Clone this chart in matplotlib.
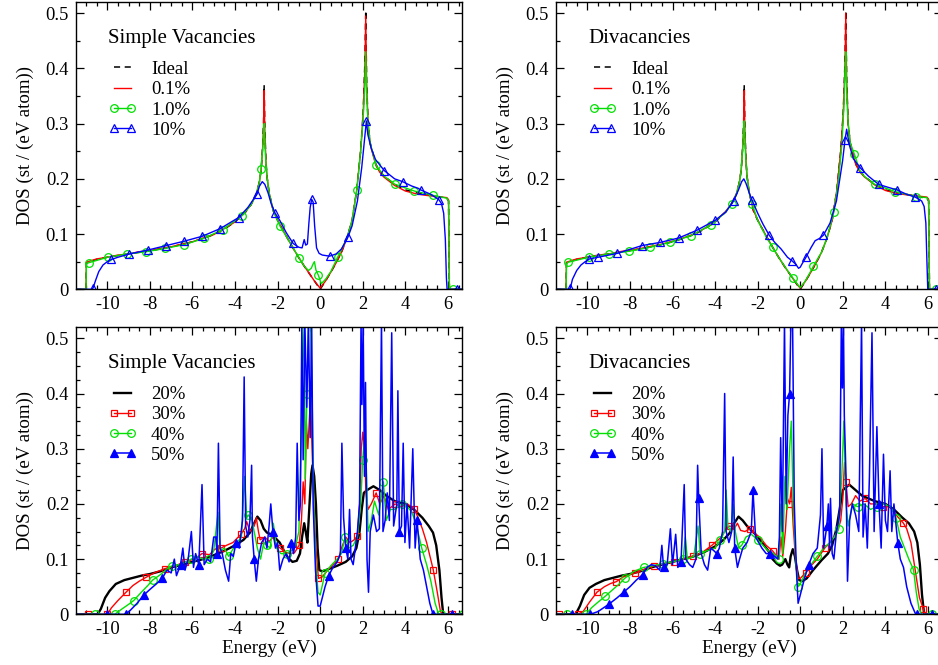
import numpy as np
import matplotlib
matplotlib.use("Agg")
import matplotlib.pyplot as plt
from matplotlib.lines import Line2D
from matplotlib.ticker import MultipleLocator, FuncFormatter

plt.rcParams["font.family"] = ["Liberation Serif", "DejaVu Serif"]
plt.rcParams["axes.unicode_minus"] = False

# ── Data: DOS (st / (eV atom)) vs energy (eV) ──────────────────────────────

# pristine sheet and 0.1 % share one energy grid
e_ideal = [-11.5, -11.0, -10.98, -10.5, -10.0, -9.5, -9.0, -8.5, -8.0, -7.5,
           -7.0, -6.5, -6.0, -5.5, -5.0, -4.5, -4.0, -3.5, -3.25, -3.0,
           -2.85, -2.77, -2.7, -2.66, -2.63, -2.6, -2.55, -2.5, -2.4, -2.2,
           -2.0, -1.83, -1.5, -1.25, -1.0, -0.75, -0.5, -0.25, 0.0, 0.25,
           0.5, 0.75, 1.0, 1.25, 1.5, 1.72, 1.9, 2.02, 2.1, 2.14,
           2.18, 2.25, 2.35, 2.5, 2.62, 2.8, 3.0, 3.5, 4.0, 4.5,
           5.0, 5.5, 5.95, 6.03, 6.07, 6.7]
dos_ideal = [0, 0, 0.048, 0.054, 0.058, 0.061, 0.064, 0.067, 0.070, 0.073,
             0.077, 0.081, 0.086, 0.092, 0.099, 0.109, 0.122, 0.140, 0.153, 0.172,
             0.195, 0.217, 0.260, 0.300, 0.370, 0.290, 0.235, 0.205, 0.175, 0.142,
             0.125, 0.113, 0.090, 0.073, 0.057, 0.042, 0.028, 0.014, 0.000, 0.015,
             0.031, 0.048, 0.067, 0.092, 0.125, 0.180, 0.250, 0.320, 0.410, 0.505,
             0.380, 0.300, 0.265, 0.243, 0.226, 0.214, 0.205, 0.190, 0.180, 0.175,
             0.172, 0.168, 0.165, 0.160, 0.000, 0.000]
dos_sv_01 = [0, 0, 0.049, 0.055, 0.058, 0.062, 0.064, 0.068, 0.070, 0.074,
             0.077, 0.082, 0.086, 0.093, 0.099, 0.110, 0.122, 0.141, 0.153, 0.172,
             0.196, 0.217, 0.258, 0.295, 0.360, 0.285, 0.233, 0.205, 0.175, 0.142,
             0.125, 0.113, 0.090, 0.073, 0.057, 0.042, 0.028, 0.014, 0.002, 0.015,
             0.031, 0.048, 0.067, 0.092, 0.125, 0.180, 0.250, 0.318, 0.400, 0.495,
             0.375, 0.300, 0.263, 0.241, 0.224, 0.212, 0.203, 0.188, 0.178, 0.173,
             0.170, 0.168, 0.166, 0.162, 0.000, 0.000]
dos_dv_01 = [0, 0, 0.049, 0.055, 0.058, 0.062, 0.064, 0.068, 0.071, 0.074,
             0.078, 0.082, 0.087, 0.093, 0.100, 0.110, 0.123, 0.141, 0.154, 0.172,
             0.196, 0.218, 0.258, 0.295, 0.360, 0.285, 0.233, 0.206, 0.176, 0.143,
             0.126, 0.113, 0.090, 0.073, 0.057, 0.042, 0.028, 0.014, 0.002, 0.015,
             0.031, 0.048, 0.067, 0.092, 0.125, 0.180, 0.250, 0.318, 0.402, 0.500,
             0.378, 0.300, 0.264, 0.242, 0.225, 0.213, 0.204, 0.189, 0.179, 0.174,
             0.171, 0.169, 0.167, 0.163, 0.000, 0.000]

# simple vacancies, low concentrations
sv_1 = [(-11.5, 0), (-11.0, 0), (-10.98, 0.046), (-10.88, 0.048), (-9.98, 0.058),
        (-9.08, 0.064), (-8.18, 0.068), (-7.28, 0.074), (-6.38, 0.081), (-5.48, 0.092),
        (-4.58, 0.108), (-3.68, 0.133), (-3.25, 0.153), (-3.0, 0.172), (-2.85, 0.195),
        (-2.78, 0.217), (-2.7, 0.255), (-2.66, 0.28), (-2.63, 0.30), (-2.6, 0.27),
        (-2.55, 0.23), (-2.5, 0.205), (-2.4, 0.175), (-2.2, 0.142), (-1.88, 0.114),
        (-1.5, 0.09), (-0.98, 0.056), (-0.75, 0.042), (-0.55, 0.034), (-0.42, 0.038),
        (-0.33, 0.046), (-0.27, 0.05), (-0.2, 0.035), (-0.08, 0.025), (0.05, 0.01),
        (0.25, 0.018), (0.5, 0.032), (0.82, 0.058), (1.25, 0.092), (1.5, 0.125),
        (1.72, 0.18), (1.9, 0.25), (2.02, 0.31), (2.1, 0.37), (2.14, 0.43),
        (2.18, 0.36), (2.25, 0.3), (2.35, 0.265), (2.62, 0.225), (3.0, 0.205),
        (3.52, 0.19), (4.42, 0.178), (5.32, 0.17), (5.95, 0.165), (6.03, 0.16),
        (6.07, 0.0), (6.22, 0.0), (6.7, 0.0)]
sv_10 = [(-11.5, 0), (-10.75, 0), (-10.67, 0.002), (-10.55, 0.016), (-10.4, 0.032),
         (-10.2, 0.044), (-10.0, 0.05), (-9.81, 0.054), (-9.5, 0.058), (-8.96, 0.064),
         (-8.1, 0.071), (-7.25, 0.079), (-6.4, 0.087), (-5.54, 0.096), (-4.69, 0.11),
         (-3.83, 0.13), (-3.4, 0.148), (-3.1, 0.165), (-2.97, 0.172), (-2.85, 0.187),
         (-2.72, 0.195), (-2.6, 0.19), (-2.45, 0.175), (-2.3, 0.155), (-2.12, 0.138),
         (-1.9, 0.125), (-1.6, 0.103), (-1.27, 0.083), (-1.0, 0.076), (-0.85, 0.075),
         (-0.75, 0.09), (-0.68, 0.08), (-0.6, 0.082), (-0.53, 0.12), (-0.47, 0.148),
         (-0.4, 0.163), (-0.33, 0.158), (-0.26, 0.115), (-0.17, 0.075), (-0.05, 0.065),
         (0.1, 0.062), (0.44, 0.06), (0.75, 0.064), (1.0, 0.073), (1.3, 0.094),
         (1.5, 0.115), (1.75, 0.16), (1.95, 0.22), (2.08, 0.27), (2.17, 0.305),
         (2.24, 0.28), (2.4, 0.255), (2.6, 0.235), (3.01, 0.215), (3.5, 0.2),
         (3.87, 0.195), (4.3, 0.187), (4.6, 0.183), (4.72, 0.18), (5.2, 0.172),
         (5.58, 0.162), (5.7, 0.155), (5.8, 0.138), (5.88, 0.09), (5.93, 0.02),
         (5.96, 0), (6.43, 0), (6.7, 0)]

# divacancies, low concentrations
dv_1 = [(-11.5, 0), (-11.0, 0), (-10.98, 0.046), (-10.9, 0.049), (-9.94, 0.058),
        (-8.98, 0.064), (-8.02, 0.069), (-7.06, 0.076), (-6.1, 0.085), (-5.14, 0.097),
        (-4.18, 0.117), (-3.5, 0.14), (-3.22, 0.155), (-3.0, 0.172), (-2.85, 0.195),
        (-2.77, 0.217), (-2.7, 0.26), (-2.66, 0.285), (-2.63, 0.305), (-2.6, 0.275),
        (-2.55, 0.23), (-2.5, 0.205), (-2.4, 0.175), (-2.26, 0.155), (-2.0, 0.125),
        (-1.6, 0.095), (-1.3, 0.076), (-1.0, 0.057), (-0.6, 0.034), (-0.34, 0.02),
        (-0.15, 0.01), (0.0, 0.003), (0.2, 0.013), (0.4, 0.026), (0.62, 0.042),
        (1.0, 0.067), (1.25, 0.092), (1.58, 0.14), (1.8, 0.2), (1.95, 0.26),
        (2.05, 0.33), (2.1, 0.39), (2.14, 0.43), (2.18, 0.36), (2.25, 0.3),
        (2.35, 0.265), (2.54, 0.245), (2.8, 0.215), (3.0, 0.205), (3.5, 0.19),
        (4.46, 0.177), (5.0, 0.172), (5.42, 0.168), (5.95, 0.166), (6.03, 0.16),
        (6.07, 0.0), (6.38, 0.0), (6.7, 0.0)]
dv_10 = [(-11.5, 0), (-10.85, 0), (-10.8, 0.002), (-10.7, 0.018), (-10.5, 0.034),
         (-10.3, 0.044), (-10.1, 0.05), (-9.9, 0.055), (-9.5, 0.058), (-8.6, 0.065),
         (-7.45, 0.079), (-6.57, 0.085), (-5.7, 0.093), (-4.85, 0.107), (-3.99, 0.125),
         (-3.5, 0.14), (-3.13, 0.16), (-2.9, 0.18), (-2.75, 0.195), (-2.65, 0.2),
         (-2.55, 0.192), (-2.4, 0.175), (-2.27, 0.162), (-2.0, 0.138), (-1.75, 0.118),
         (-1.46, 0.098), (-1.2, 0.085), (-0.9, 0.073), (-0.6, 0.058), (-0.4, 0.052),
         (-0.2, 0.045), (-0.08, 0.038), (0.0, 0.04), (0.1, 0.047), (0.27, 0.058),
         (0.5, 0.075), (0.7, 0.088), (0.9, 0.092), (1.09, 0.098), (1.4, 0.12),
         (1.7, 0.16), (1.99, 0.233), (2.1, 0.27), (2.18, 0.29), (2.3, 0.262),
         (2.5, 0.236), (2.82, 0.22), (3.2, 0.205), (3.68, 0.19), (4.1, 0.185),
         (4.54, 0.18), (5.0, 0.172), (5.4, 0.167), (5.7, 0.16), (5.82, 0.15),
         (5.9, 0.12), (5.95, 0.05), (5.99, 0), (6.4, 0), (6.7, 0)]

# simple vacancies, high concentrations
sv_20 = [(-11.5, 0), (-10.45, 0), (-10.3, 0.01), (-10.1, 0.03), (-9.9, 0.042),
         (-9.6, 0.055), (-9.2, 0.062), (-8.8, 0.066), (-8.4, 0.07), (-8.0, 0.073),
         (-7.5, 0.078), (-7.0, 0.085), (-6.5, 0.09), (-6.0, 0.095), (-5.5, 0.1),
         (-5.0, 0.107), (-4.5, 0.115), (-4.0, 0.125), (-3.6, 0.135), (-3.3, 0.148),
         (-3.1, 0.165), (-2.95, 0.177), (-2.8, 0.17), (-2.65, 0.155), (-2.5, 0.148),
         (-2.3, 0.145), (-2.1, 0.138), (-1.9, 0.13), (-1.7, 0.115), (-1.5, 0.102),
         (-1.3, 0.095), (-1.1, 0.097), (-0.95, 0.11), (-0.85, 0.14), (-0.75, 0.165),
         (-0.68, 0.15), (-0.6, 0.13), (-0.5, 0.2), (-0.42, 0.255), (-0.36, 0.27),
         (-0.28, 0.25), (-0.2, 0.2), (-0.12, 0.12), (-0.04, 0.08), (0.1, 0.078),
         (0.4, 0.082), (0.8, 0.088), (1.2, 0.095), (1.5, 0.105), (1.7, 0.12),
         (1.85, 0.15), (1.95, 0.19), (2.05, 0.22), (2.2, 0.225), (2.5, 0.232),
         (2.8, 0.225), (3.1, 0.215), (3.5, 0.205), (4.0, 0.2), (4.4, 0.19),
         (4.8, 0.175), (5.1, 0.16), (5.3, 0.148), (5.45, 0.125), (5.6, 0.08),
         (5.7, 0.03), (5.78, 0), (6.7, 0)]
sv_30 = [(-11.5, 0), (-10.92, 0), (-10.0, 0), (-9.8, 0.012), (-9.5, 0.025),
         (-9.12, 0.04), (-8.8, 0.052), (-8.5, 0.06), (-8.18, 0.067), (-7.8, 0.075),
         (-7.27, 0.083), (-6.8, 0.088), (-6.37, 0.095), (-5.9, 0.1), (-5.55, 0.11),
         (-5.2, 0.108), (-4.95, 0.118), (-4.66, 0.12), (-4.4, 0.125), (-4.1, 0.13),
         (-3.72, 0.145), (-3.55, 0.155), (-3.45, 0.168), (-3.3, 0.15), (-3.1, 0.16),
         (-3.0, 0.175), (-2.9, 0.15), (-2.82, 0.135), (-2.6, 0.14), (-2.4, 0.132),
         (-2.2, 0.14), (-2.05, 0.125), (-1.88, 0.12), (-1.6, 0.112), (-1.4, 0.11),
         (-1.2, 0.112), (-0.99, 0.125), (-0.88, 0.17), (-0.8, 0.24), (-0.72, 0.2),
         (-0.65, 0.35), (-0.58, 0.3), (-0.5, 0.36), (-0.45, 0.39), (-0.38, 0.3),
         (-0.3, 0.2), (-0.2, 0.12), (-0.08, 0.065), (0.1, 0.068), (0.4, 0.082),
         (0.86, 0.1), (1.0, 0.12), (1.2, 0.14), (1.4, 0.13), (1.6, 0.135),
         (1.75, 0.142), (1.85, 0.2), (1.93, 0.3), (2.0, 0.33), (2.08, 0.3),
         (2.15, 0.22), (2.25, 0.19), (2.4, 0.2), (2.63, 0.22), (2.8, 0.2),
         (3.0, 0.215), (3.2, 0.19), (3.52, 0.2), (3.8, 0.195), (4.1, 0.2),
         (4.43, 0.19), (4.6, 0.175), (4.8, 0.155), (5.0, 0.13), (5.31, 0.081),
         (5.5, 0.04), (5.65, 0.005), (5.75, 0), (6.2, 0), (6.7, 0)]
sv_40 = [(-11.5, 0), (-10.56, 0), (-9.65, 0), (-9.3, 0.01), (-9.0, 0.018),
         (-8.76, 0.025), (-8.4, 0.04), (-8.1, 0.052), (-7.87, 0.062), (-7.5, 0.072),
         (-7.2, 0.082), (-6.96, 0.088), (-6.6, 0.09), (-6.3, 0.095), (-6.06, 0.1),
         (-5.8, 0.105), (-5.5, 0.1), (-5.2, 0.1), (-5.0, 0.115), (-4.8, 0.185),
         (-4.7, 0.115), (-4.5, 0.12), (-4.3, 0.105), (-4.1, 0.118), (-3.9, 0.13),
         (-3.7, 0.14), (-3.55, 0.25), (-3.45, 0.175), (-3.37, 0.18), (-3.2, 0.17),
         (-3.1, 0.15), (-2.95, 0.12), (-2.8, 0.1), (-2.65, 0.13), (-2.5, 0.125),
         (-2.35, 0.12), (-2.2, 0.165), (-2.05, 0.12), (-1.85, 0.11), (-1.57, 0.11),
         (-1.35, 0.115), (-1.15, 0.125), (-1.0, 0.15), (-0.9, 0.3), (-0.82, 0.45),
         (-0.75, 0.53), (-0.7, 0.245), (-0.62, 0.4), (-0.55, 0.53), (-0.45, 0.53),
         (-0.38, 0.4), (-0.3, 0.2), (-0.2, 0.09), (-0.1, 0.04), (0.0, 0.035),
         (0.23, 0.075), (0.5, 0.088), (0.8, 0.1), (1.0, 0.11), (1.17, 0.14),
         (1.35, 0.12), (1.55, 0.125), (1.75, 0.14), (1.9, 0.2), (2.0, 0.28),
         (2.11, 0.335), (2.18, 0.25), (2.25, 0.15), (2.4, 0.17), (2.55, 0.205),
         (2.75, 0.18), (2.97, 0.24), (3.1, 0.17), (3.3, 0.19), (3.5, 0.19),
         (3.83, 0.2), (4.1, 0.195), (4.3, 0.185), (4.5, 0.165), (4.77, 0.12),
         (5.0, 0.09), (5.2, 0.06), (5.4, 0.02), (5.55, 0.002), (5.66, 0),
         (6.7, 0)]
sv_50 = [(-11.5, 0), (-10.0, 0), (-9.14, 0), (-8.9, 0.008), (-8.6, 0.02),
         (-8.28, 0.035), (-8.0, 0.045), (-7.7, 0.055), (-7.42, 0.065), (-7.2, 0.08),
         (-7.0, 0.075), (-6.85, 0.1), (-6.75, 0.07), (-6.56, 0.09), (-6.45, 0.12),
         (-6.35, 0.08), (-6.2, 0.1), (-6.05, 0.15), (-5.95, 0.085), (-5.85, 0.11),
         (-5.7, 0.09), (-5.55, 0.235), (-5.45, 0.09), (-5.3, 0.1), (-5.15, 0.095),
         (-5.0, 0.14), (-4.9, 0.14), (-4.85, 0.11), (-4.78, 0.31), (-4.7, 0.12),
         (-4.6, 0.11), (-4.45, 0.08), (-4.3, 0.06), (-4.2, 0.11), (-4.08, 0.105),
         (-3.95, 0.13), (-3.8, 0.12), (-3.65, 0.17), (-3.57, 0.43), (-3.5, 0.16),
         (-3.4, 0.14), (-3.3, 0.17), (-3.22, 0.27), (-3.18, 0.14), (-3.1, 0.1),
         (-3.0, 0.06), (-2.9, 0.1), (-2.75, 0.13), (-2.6, 0.14), (-2.5, 0.12),
         (-2.4, 0.16), (-2.32, 0.2), (-2.22, 0.15), (-2.1, 0.12), (-2.0, 0.13),
         (-1.9, 0.08), (-1.75, 0.1), (-1.6, 0.11), (-1.46, 0.095), (-1.35, 0.13),
         (-1.25, 0.11), (-1.15, 0.14), (-1.08, 0.31), (-1.0, 0.17), (-0.93, 0.2),
         (-0.86, 0.53), (-0.8, 0.28), (-0.72, 0.53), (-0.63, 0.375), (-0.55, 0.53),
         (-0.47, 0.32), (-0.4, 0.53), (-0.33, 0.2), (-0.22, 0.08), (-0.1, 0.015),
         (0.0, 0.015), (0.1, 0.03), (0.23, 0.05), (0.4, 0.07), (0.6, 0.085),
         (0.8, 0.095), (0.95, 0.11), (1.02, 0.31), (1.1, 0.175), (1.2, 0.12),
         (1.3, 0.1), (1.38, 0.19), (1.45, 0.1), (1.55, 0.09), (1.65, 0.12),
         (1.75, 0.15), (1.85, 0.2), (1.92, 0.53), (1.96, 0.38), (2.02, 0.53),
         (2.08, 0.25), (2.13, 0.42), (2.2, 0.1), (2.27, 0.04), (2.35, 0.15),
         (2.5, 0.18), (2.65, 0.15), (2.78, 0.155), (2.88, 0.53), (2.95, 0.15),
         (3.05, 0.17), (3.15, 0.22), (3.25, 0.17), (3.36, 0.51), (3.45, 0.16),
         (3.6, 0.2), (3.65, 0.405), (3.72, 0.15), (3.82, 0.16), (3.9, 0.31),
         (3.98, 0.13), (4.08, 0.2), (4.2, 0.12), (4.35, 0.3), (4.46, 0.12),
         (4.55, 0.17), (4.7, 0.1), (4.85, 0.08), (5.0, 0.05), (5.15, 0.02),
         (5.3, 0), (6.18, 0), (6.7, 0)]

# divacancies, high concentrations
dv_20 = [(-11.5, 0), (-10.55, 0), (-10.35, 0.015), (-10.15, 0.035), (-9.9, 0.048),
         (-9.6, 0.055), (-9.2, 0.062), (-8.8, 0.066), (-8.4, 0.07), (-8.0, 0.073),
         (-7.5, 0.078), (-7.0, 0.085), (-6.5, 0.09), (-6.0, 0.095), (-5.5, 0.1),
         (-5.0, 0.105), (-4.5, 0.113), (-4.0, 0.123), (-3.6, 0.135), (-3.3, 0.148),
         (-3.1, 0.165), (-2.9, 0.177), (-2.7, 0.17), (-2.5, 0.16), (-2.3, 0.152),
         (-2.1, 0.145), (-1.9, 0.135), (-1.7, 0.125), (-1.5, 0.115), (-1.3, 0.1),
         (-1.1, 0.092), (-0.95, 0.088), (-0.85, 0.09), (-0.7, 0.1), (-0.6, 0.09),
         (-0.52, 0.085), (-0.45, 0.105), (-0.35, 0.118), (-0.25, 0.105), (-0.15, 0.08),
         (-0.05, 0.062), (0.1, 0.06), (0.3, 0.065), (0.6, 0.08), (1.0, 0.098),
         (1.3, 0.11), (1.5, 0.125), (1.7, 0.155), (1.85, 0.19), (2.0, 0.225),
         (2.3, 0.235), (2.6, 0.225), (2.9, 0.215), (3.2, 0.21), (3.5, 0.205),
         (4.0, 0.2), (4.4, 0.19), (4.8, 0.175), (5.1, 0.165), (5.35, 0.15),
         (5.5, 0.13), (5.62, 0.09), (5.72, 0.035), (5.82, 0), (6.7, 0)]
dv_30 = [(-11.5, 0), (-11.35, 0), (-10.46, 0), (-10.2, 0.005), (-9.9, 0.022),
         (-9.55, 0.04), (-9.2, 0.05), (-8.9, 0.056), (-8.65, 0.059), (-8.3, 0.068),
         (-7.75, 0.075), (-7.3, 0.082), (-6.85, 0.088), (-6.4, 0.092), (-5.95, 0.095),
         (-5.5, 0.1), (-5.05, 0.105), (-4.6, 0.112), (-4.15, 0.125), (-3.7, 0.14),
         (-3.45, 0.158), (-3.3, 0.16), (-3.1, 0.155), (-2.95, 0.165), (-2.8, 0.152),
         (-2.6, 0.15), (-2.35, 0.155), (-2.1, 0.145), (-1.9, 0.14), (-1.6, 0.125),
         (-1.3, 0.115), (-1.0, 0.1), (-0.9, 0.14), (-0.82, 0.105), (-0.7, 0.15),
         (-0.6, 0.21), (-0.5, 0.2), (-0.42, 0.23), (-0.33, 0.16), (-0.22, 0.1),
         (-0.1, 0.065), (0.0, 0.065), (0.25, 0.075), (0.5, 0.088), (0.8, 0.1),
         (1.15, 0.12), (1.5, 0.135), (1.75, 0.15), (1.9, 0.17), (2.0, 0.21),
         (2.08, 0.275), (2.15, 0.24), (2.25, 0.195), (2.4, 0.2), (2.6, 0.215),
         (2.8, 0.205), (3.05, 0.21), (3.3, 0.2), (3.6, 0.2), (3.9, 0.195),
         (4.2, 0.195), (4.5, 0.18), (4.85, 0.165), (5.0, 0.155), (5.2, 0.13),
         (5.4, 0.08), (5.6, 0.03), (5.78, 0.01), (5.85, 0), (6.7, 0)]
dv_40 = [(-11.5, 0), (-10.95, 0), (-10.05, 0), (-9.8, 0.012), (-9.5, 0.022),
         (-9.15, 0.033), (-8.8, 0.045), (-8.5, 0.055), (-8.25, 0.065), (-7.8, 0.078),
         (-7.35, 0.085), (-6.9, 0.088), (-6.45, 0.092), (-6.0, 0.095), (-5.5, 0.1),
         (-5.4, 0.14), (-5.3, 0.1), (-5.0, 0.105), (-4.8, 0.16), (-4.7, 0.11),
         (-4.4, 0.115), (-4.0, 0.12), (-3.75, 0.135), (-3.55, 0.15), (-3.48, 0.225),
         (-3.4, 0.16), (-3.25, 0.15), (-3.15, 0.2), (-3.05, 0.15), (-2.9, 0.12),
         (-2.75, 0.125), (-2.55, 0.14), (-2.3, 0.145), (-2.0, 0.135), (-1.75, 0.125),
         (-1.5, 0.115), (-1.25, 0.11), (-1.0, 0.1), (-0.9, 0.2), (-0.82, 0.11),
         (-0.72, 0.25), (-0.62, 0.19), (-0.5, 0.3), (-0.42, 0.35), (-0.33, 0.2),
         (-0.2, 0.09), (-0.1, 0.05), (0.0, 0.055), (0.25, 0.075), (0.5, 0.09),
         (0.8, 0.105), (1.1, 0.12), (1.4, 0.13), (1.6, 0.14), (1.8, 0.155),
         (1.95, 0.25), (2.05, 0.35), (2.15, 0.2), (2.25, 0.16), (2.45, 0.2),
         (2.7, 0.195), (3.0, 0.2), (3.3, 0.19), (3.6, 0.195), (3.9, 0.2),
         (4.25, 0.195), (4.5, 0.175), (4.7, 0.14), (4.9, 0.12), (5.1, 0.1),
         (5.32, 0.081), (5.45, 0.04), (5.58, 0.01), (5.7, 0), (6.18, 0),
         (6.7, 0)]
dv_50 = [(-11.5, 0), (-10.7, 0), (-9.86, 0), (-9.5, 0.005), (-9.0, 0.018),
         (-8.6, 0.03), (-8.3, 0.04), (-8.0, 0.05), (-7.7, 0.062), (-7.4, 0.072),
         (-7.2, 0.085), (-7.0, 0.09), (-6.8, 0.088), (-6.6, 0.08), (-6.5, 0.125),
         (-6.42, 0.085), (-6.25, 0.09), (-6.1, 0.155), (-6.0, 0.09), (-5.85, 0.145),
         (-5.75, 0.085), (-5.6, 0.095), (-5.45, 0.235), (-5.38, 0.1), (-5.2, 0.09),
         (-5.05, 0.085), (-4.9, 0.1), (-4.82, 0.27), (-4.77, 0.21), (-4.65, 0.11),
         (-4.5, 0.09), (-4.35, 0.08), (-4.2, 0.12), (-4.05, 0.115), (-3.92, 0.11),
         (-3.8, 0.12), (-3.65, 0.15), (-3.55, 0.4), (-3.48, 0.15), (-3.35, 0.13),
         (-3.22, 0.15), (-3.15, 0.285), (-3.08, 0.12), (-2.95, 0.085), (-2.85, 0.1),
         (-2.7, 0.12), (-2.5, 0.13), (-2.3, 0.15), (-2.22, 0.225), (-2.17, 0.19),
         (-2.1, 0.14), (-1.95, 0.13), (-1.8, 0.12), (-1.6, 0.11), (-1.4, 0.11),
         (-1.2, 0.105), (-1.05, 0.1), (-0.98, 0.14), (-0.92, 0.32), (-0.84, 0.15),
         (-0.74, 0.53), (-0.66, 0.2), (-0.58, 0.36), (-0.5, 0.4), (-0.44, 0.53),
         (-0.36, 0.53), (-0.28, 0.2), (-0.18, 0.08), (-0.1, 0.02), (0.0, 0.035),
         (0.2, 0.065), (0.4, 0.09), (0.6, 0.11), (0.8, 0.12), (0.95, 0.18),
         (1.02, 0.3), (1.1, 0.12), (1.25, 0.16), (1.32, 0.2), (1.38, 0.12),
         (1.42, 0.21), (1.5, 0.11), (1.58, 0.1), (1.7, 0.15), (1.85, 0.18),
         (1.93, 0.53), (1.98, 0.41), (2.03, 0.53), (2.07, 0.36), (2.15, 0.25),
         (2.22, 0.06), (2.32, 0.17), (2.45, 0.2), (2.6, 0.18), (2.75, 0.15),
         (2.88, 0.53), (2.95, 0.14), (3.05, 0.2), (3.15, 0.12), (3.25, 0.25),
         (3.37, 0.51), (3.47, 0.15), (3.6, 0.34), (3.7, 0.2), (3.8, 0.12),
         (3.91, 0.29), (4.0, 0.17), (4.1, 0.15), (4.22, 0.26), (4.3, 0.15),
         (4.4, 0.2), (4.58, 0.13), (4.7, 0.1), (4.85, 0.085), (5.0, 0.05),
         (5.2, 0.02), (5.4, 0.002), (5.47, 0), (6.2, 0), (6.7, 0)]

labels_low = ["Ideal", "0.1%", "1.0%", "10%"]
labels_high = ["20%", "30%", "40%", "50%"]

# ── Styles ──────────────────────────────────────────────────────────────────
RED, GREEN, BLUE = "#ff0000", "#00e000", "#0000ff"
STY = {
    "ideal": dict(color="black", lw=1.1, ls=(0, (4, 3))),
    "01":    dict(color=RED, lw=1.0),
    "1":     dict(color=GREEN, lw=1.0, marker="o", ms=5.5, mfc="none", mew=0.9),
    "10":    dict(color=BLUE, lw=1.0, marker="^", ms=5.8, mfc="none", mew=0.9),
    "20":    dict(color="black", lw=1.7),
    "30":    dict(color=RED, lw=1.0, marker="s", ms=5, mfc="none", mew=0.9),
    "40":    dict(color=GREEN, lw=1.0, marker="o", ms=5.5, mfc="none", mew=0.9),
    "50":    dict(color=BLUE, lw=1.1, marker="^", ms=5.5, mew=0.9),
}

XLIM = (-11.47, 6.66)
YLIM = (0, 0.521)


def mark_idx(e, start, step):
    """Indices of data points nearest to a regular symbol spacing (grace-like)."""
    e = np.asarray(e)
    targets = np.arange(start, e.max(), step)
    return sorted({int(np.abs(e - t).argmin()) for t in targets})


def draw(ax, e, d, key, marks=None):
    kw = dict(STY[key])
    if marks is not None and "marker" in kw:
        kw["markevery"] = mark_idx(e, *marks)
    ax.plot(e, d, **kw)


def pairs(p):
    a = np.array(p, dtype=float)
    return a[:, 0], a[:, 1]


def style_axes(ax, bottom_row, minor_y):
    ax.set_xlim(*XLIM)
    ax.set_ylim(*YLIM)
    ax.xaxis.set_major_locator(MultipleLocator(2))
    ax.xaxis.set_minor_locator(MultipleLocator(0.5))
    ax.yaxis.set_major_locator(MultipleLocator(0.1))
    ax.yaxis.set_minor_locator(MultipleLocator(minor_y))
    ax.yaxis.set_major_formatter(FuncFormatter(lambda v, _: "0" if abs(v) < 1e-9 else f"{v:.1f}"))
    ax.xaxis.set_major_formatter(FuncFormatter(lambda v, _: f"{v:.0f}"))
    ax.tick_params(which="both", direction="in", top=True, right=True,
                   labelsize=13.3, width=0.9)
    ax.tick_params(which="major", length=5.5, pad=5)
    ax.tick_params(which="minor", length=2.8)
    for s in ax.spines.values():
        s.set_linewidth(1.0)
    ax.set_ylabel("DOS (st / (eV atom))", fontsize=13.6, labelpad=8)
    if bottom_row:
        ax.set_xlabel("Energy (eV)", fontsize=13.8, labelpad=1)


def add_legend(ax, title, keys, labels):
    ax.text(0.083, 0.871, title, transform=ax.transAxes, fontsize=15,
            ha="left", va="center")
    handles = [Line2D([], [], **STY[k]) for k in keys]
    ax.legend(handles, labels, loc="upper left", bbox_to_anchor=(0.085, 0.794),
              frameon=False, fontsize=13.5, handlelength=1.5, handletextpad=0.75,
              labelspacing=0.17, borderpad=0, borderaxespad=0, numpoints=2)


fig = plt.figure(figsize=(9.38, 6.65), dpi=100)
W, H = 0.4115, 0.4325
ax_tl = fig.add_axes([0.0810, 0.5650, W, H])
ax_tr = fig.add_axes([0.5928, 0.5650, W, H])
ax_bl = fig.add_axes([0.0810, 0.0762, W, H])
ax_br = fig.add_axes([0.5928, 0.0762, W, H])

# top left: simple vacancies, low concentrations
ax_tl.plot(e_ideal, dos_ideal, **STY["ideal"])
ax_tl.plot(e_ideal, dos_sv_01, **STY["01"])
draw(ax_tl, *pairs(sv_1), "1", (-10.88, 0.9))
draw(ax_tl, *pairs(sv_10), "10", (-10.67, 0.855))

# top right: divacancies, low concentrations
ax_tr.plot(e_ideal, dos_ideal, **STY["ideal"])
ax_tr.plot(e_ideal, dos_dv_01, **STY["01"])
draw(ax_tr, *pairs(dv_1), "1", (-10.9, 0.96))
draw(ax_tr, *pairs(dv_10), "10", (-10.8, 0.86))

# bottom left: simple vacancies, high concentrations
draw(ax_bl, *pairs(sv_20), "20")
draw(ax_bl, *pairs(sv_30), "30", (-10.92, 0.9))
draw(ax_bl, *pairs(sv_40), "40", (-10.56, 0.9))
draw(ax_bl, *pairs(sv_50), "50", (-10.0, 0.86))

# bottom right: divacancies, high concentrations
draw(ax_br, *pairs(dv_20), "20")
draw(ax_br, *pairs(dv_30), "30", (-11.35, 0.9))
draw(ax_br, *pairs(dv_40), "40", (-10.95, 0.904))
draw(ax_br, *pairs(dv_50), "50", (-10.7, 0.85))

for ax, bottom in ((ax_tl, False), (ax_tr, False), (ax_bl, True), (ax_br, True)):
    style_axes(ax, bottom, 0.025 if bottom else 0.05)

add_legend(ax_tl, "Simple Vacancies", ["ideal", "01", "1", "10"], labels_low)
add_legend(ax_tr, "Divacancies", ["ideal", "01", "1", "10"], labels_low)
add_legend(ax_bl, "Simple Vacancies", ["20", "30", "40", "50"], labels_high)
add_legend(ax_br, "Divacancies", ["20", "30", "40", "50"], labels_high)

fig.savefig("out.png", dpi=100)
